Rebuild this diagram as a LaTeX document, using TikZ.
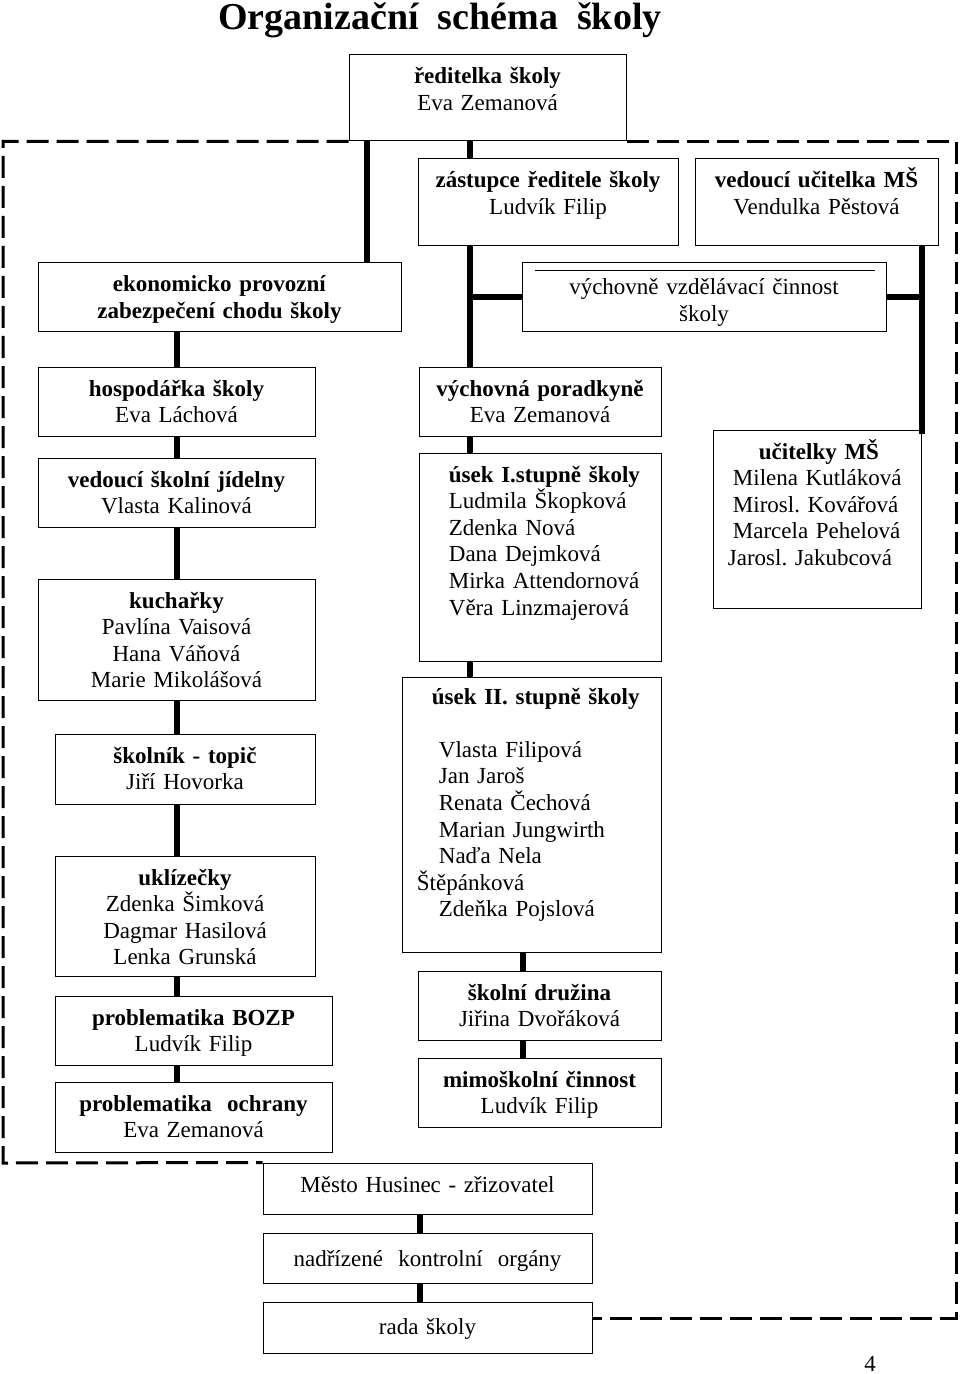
\documentclass[tikz,border=0pt]{standalone}
\usepackage{fontspec}
\setmainfont{Liberation Serif}
\usetikzlibrary{fit}
\frenchspacing

\begin{document}
\begin{tikzpicture}[x=0.5pt, y=-0.5pt,
  box/.style={draw, line width=0.5pt, inner sep=0pt},
  txt/.style={anchor=base, text width=150pt, align=center, inner sep=0pt, yshift=-14.75pt, font=\fontsize{11.5pt}{13.3pt}\selectfont},
  txtl/.style={txt, anchor=base west, align=left},
  conn/.style={line width=3pt},
  border/.style={line width=1.5pt, dash pattern=on 11pt off 4pt}]
  \useasboundingbox (0,0) rectangle (960,1374);
  \node[anchor=base, font=\fontsize{19pt}{23pt}\selectfont\bfseries] (title) at (440,30) {Organizační\ \ schéma\ \ školy};

  \node[box, fit={(349,55) (626,141)}] (reditelka) {};
  \node[box, fit={(418,159) (678,246)}] (zastupce) {};
  \node[box, fit={(695,159) (938,246)}] (vedms) {};
  \node[box, fit={(38,263) (401,332)}] (ekon) {};
  \node[box, fit={(522,263) (886,332)}] (vychovne) {};
  \node[box, fit={(38,367) (315,436)}] (hosp) {};
  \node[box, fit={(38,458) (315,527)}] (jidelna) {};
  \node[box, fit={(38,579) (315,700)}] (kuch) {};
  \node[box, fit={(55,734) (315,804)}] (skolnik) {};
  \node[box, fit={(55,856) (315,976)}] (uklid) {};
  \node[box, fit={(55,996) (332,1065)}] (bozp) {};
  \node[box, fit={(55,1082) (332,1152)}] (ochrana) {};
  \node[box, fit={(419,367) (661,436)}] (poradkyne) {};
  \node[box, fit={(419,453) (661,661)}] (usekI) {};
  \node[box, fit={(402,677) (661,952)}] (usekII) {};
  \node[box, fit={(418,971) (661,1040)}] (druzina) {};
  \node[box, fit={(418,1058) (661,1127)}] (mimo) {};
  \node[box, fit={(713,430) (921,608)}] (ucitelky) {};
  \node[box, fit={(263,1163) (592,1214)}] (mesto) {};
  \node[box, fit={(263,1233) (592,1283)}] (organy) {};
  \node[box, fit={(263,1302) (592,1353)}] (rada) {};

  \node[txt] (t-reditelka) at (reditelka.north) {\textbf{ředitelka školy}\\Eva Zemanová};
  \node[txt] (t-zastupce) at (zastupce.north) {\textbf{zástupce ředitele školy}\\Ludvík Filip};
  \node[txt] (t-vedms) at (vedms.north) {\textbf{vedoucí učitelka MŠ}\\Vendulka Pěstová};
  \node[txt] (t-ekon) at (ekon.north) {\textbf{ekonomicko provozní}\\\textbf{zabezpečení chodu školy}};
  \node[txt, yshift=-1.4pt] (t-vychovne) at (vychovne.north) {výchovně vzdělávací činnost\\školy};
  \draw[line width=0.5pt] ([xshift=6.5pt, yshift=-4pt]vychovne.north west) -- ([xshift=-6pt, yshift=-4pt]vychovne.north east);
  \node[txt] (t-hosp) at (hosp.north) {\textbf{hospodářka školy}\\Eva Láchová};
  \node[txt] (t-jidelna) at (jidelna.north) {\textbf{vedoucí školní jídelny}\\Vlasta Kalinová};
  \node[txt] (t-kuch) at (kuch.north) {\textbf{kuchařky}\\Pavlína Vaisová\\Hana Váňová\\Marie Mikolášová};
  \node[txt] (t-skolnik) at (skolnik.north) {\textbf{školník - topič}\\Jiří Hovorka};
  \node[txt] (t-uklid) at (uklid.north) {\textbf{uklízečky}\\Zdenka Šimková\\Dagmar Hasilová\\Lenka Grunská};
  \node[txt] (t-bozp) at (bozp.north) {\textbf{problematika BOZP}\\Ludvík Filip};
  \node[txt] (t-ochrana) at (ochrana.north) {\textbf{problematika\ \ ochrany}\\Eva Zemanová};
  \node[txt] (t-poradkyne) at (poradkyne.north) {\textbf{výchovná poradkyně}\\Eva Zemanová};
  \node[txtl, xshift=15pt] (t-usekI) at (usekI.north west) {\textbf{úsek I.stupně školy}\\Ludmila Škopková\\Zdenka Nová\\Dana Dejmková\\Mirka Attendornová\\Věra Linzmajerová};
  \node[txtl, xshift=7.5pt, yshift=1pt] (t-usekII) at (usekII.north west) {\hspace*{7.5pt}\textbf{úsek II. stupně školy}\\[13.3pt]\hspace*{11pt}Vlasta Filipová\\\hspace*{11pt}Jan Jaroš\\\hspace*{11pt}Renata Čechová\\\hspace*{11pt}Marian Jungwirth\\\hspace*{11pt}Naďa Nela\\Štěpánková\\\hspace*{11pt}Zdeňka Pojslová};
  \node[txt] (t-druzina) at (druzina.north) {\textbf{školní družina}\\Jiřina Dvořáková};
  \node[txt] (t-mimo) at (mimo.north) {\textbf{mimoškolní činnost}\\Ludvík Filip};
  \node[txtl, xshift=10pt] (t-ucitelky) at (ucitelky.north west) {\hspace*{13pt}\textbf{učitelky MŠ}\\Milena Kutláková\\Mirosl. Kovářová\\Marcela Pehelová\\\hspace*{-2.5pt}Jarosl. Jakubcová};
  \node[txt] (t-mesto) at (mesto.north) {Město Husinec - zřizovatel};
  \node[txt, yshift=-2.25pt] (t-organy) at (organy.north) {nadřízené\ \ kontrolní\ \ orgány};
  \node[txt, yshift=-1.75pt] (t-rada) at (rada.north) {rada školy};
  \node[anchor=base, font=\fontsize{11.5pt}{13.3pt}\selectfont] (pagenum) at (870,1371) {4};

  \draw[conn] ([xshift=9pt]reditelka.south west) -- ([xshift=9pt]reditelka.south west |- ekon.north);
  \draw[conn] ([xshift=26pt]zastupce.north west |- reditelka.south) -- ([xshift=26pt]zastupce.north west);
  \draw[conn] ([xshift=26pt]zastupce.south west) -- ([xshift=26pt]zastupce.south west |- poradkyne.north);
  \draw[conn] ([xshift=26pt]zastupce.south west |- vychovne.west) -- (vychovne.west);
  \draw[conn] (vychovne.east) -- (vychovne.east -| ucitelky.north east);
  \draw[conn] (ucitelky.north east |- vedms.south) -- ([yshift=-2pt]ucitelky.north east);
  \draw[conn] ([xshift=26pt]zastupce.south west |- poradkyne.south) -- ([xshift=26pt]zastupce.south west |- usekI.north);
  \draw[conn] ([xshift=26pt]zastupce.south west |- usekI.south) -- ([xshift=26pt]zastupce.south west |- usekII.north);
  \draw[conn] ([xshift=52.5pt]druzina.north west |- usekII.south) -- ([xshift=52.5pt]druzina.north west);
  \draw[conn] ([xshift=52.5pt]druzina.south west) -- ([xshift=52.5pt]druzina.south west |- mimo.north);
  \draw[conn] (hosp.north |- ekon.south) -- (hosp.north);
  \draw[conn] (hosp.south) -- (jidelna.north);
  \draw[conn] (jidelna.south) -- (kuch.north);
  \draw[conn] (kuch.south) -- (kuch.south |- skolnik.north);
  \draw[conn] (kuch.south |- skolnik.south) -- (kuch.south |- uklid.north);
  \draw[conn] (kuch.south |- uklid.south) -- (kuch.south |- bozp.north);
  \draw[conn] (kuch.south |- bozp.south) -- (kuch.south |- ochrana.north);
  \draw[conn] ([xshift=78.5pt]mesto.south west) -- ([xshift=78.5pt]mesto.south west |- organy.north);
  \draw[conn] ([xshift=78.5pt]mesto.south west |- organy.south) -- ([xshift=78.5pt]mesto.south west |- rada.north);

  \coordinate (dl) at (3,1163);
  \coordinate (dr) at (956,1318);
  \draw[border] (reditelka.south west) -| (dl) -- (mesto.north west);
  \draw[border] (reditelka.south east) -| (dr) -- (dr -| rada.east);
\end{tikzpicture}
\end{document}
